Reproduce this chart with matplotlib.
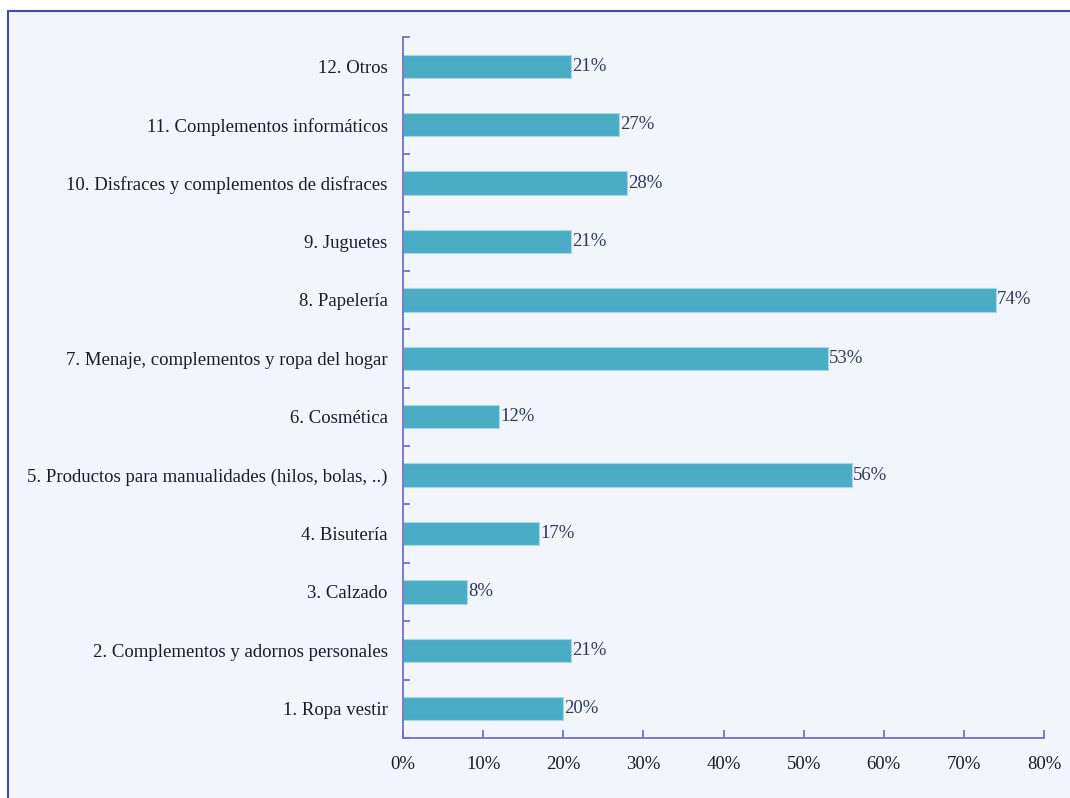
import numpy as np
import matplotlib
matplotlib.use("Agg")
from matplotlib import pyplot as plt
from matplotlib.patches import Rectangle
from matplotlib.ticker import FixedLocator, PercentFormatter

categories = [
    "1. Ropa vestir",
    "2. Complementos y adornos personales",
    "3. Calzado",
    "4. Bisutería",
    "5. Productos para manualidades (hilos, bolas, ..)",
    "6. Cosmética",
    "7. Menaje, complementos y ropa del hogar",
    "8. Papelería",
    "9. Juguetes",
    "10. Disfraces y complementos de disfraces",
    "11. Complementos informáticos",
    "12. Otros",
]
values = [20, 21, 8, 17, 56, 12, 53, 74, 21, 28, 27, 21]
x_ticks = [0, 10, 20, 30, 40, 50, 60, 70, 80]

bar_color = "#4BACC6"
axis_color = "#7272C4"
panel_color = "#F2F5FB"
font_size = 13.5

plt.rcParams["font.family"] = ["Liberation Serif", "DejaVu Serif"]

fig = plt.figure(figsize=(10.70, 7.98), dpi=100, facecolor="white")

# framed panel behind the chart
frame = Rectangle((8 / 1070, -0.05), 1.1, (798 - 11) / 798 + 0.05,
                  transform=fig.transFigure, facecolor=panel_color,
                  edgecolor="#4A4AA8", linewidth=1.5, zorder=-1)
fig.patches.append(frame)

ax = fig.add_axes([403 / 1070, 60 / 798, (1044 - 403) / 1070, (738 - 37) / 798])
ax.set_facecolor("none")
ax.set_zorder(1)

y = np.arange(len(categories))
bars = ax.barh(y, values, height=0.4, color=bar_color, edgecolor="#A8D8E6", linewidth=0.8)

for bar, v in zip(bars, values):
    ax.text(bar.get_width() + 0.15, bar.get_y() + bar.get_height() / 2, f"{v}%",
            va="center", ha="left", fontsize=font_size, color="#2E3A5A")

ax.set_xlim(0, 80)
ax.set_ylim(-0.5, len(categories) - 0.5)
ax.set_xticks(x_ticks)
ax.xaxis.set_major_formatter(PercentFormatter(decimals=0))
ax.set_yticks(y)
ax.set_yticklabels(categories)
ax.yaxis.set_minor_locator(FixedLocator(np.arange(-0.5, len(categories), 1.0)))

for side in ("top", "right"):
    ax.spines[side].set_visible(False)
for side in ("left", "bottom"):
    ax.spines[side].set_color(axis_color)
    ax.spines[side].set_linewidth(1.3)

ax.tick_params(axis="x", direction="in", length=6, width=1.3, color=axis_color,
               pad=13, labelsize=font_size, labelcolor="#1A1A2A")
ax.tick_params(axis="y", which="major", length=0, pad=11, labelsize=font_size,
               labelcolor="#1A1A2A")
ax.tick_params(axis="y", which="minor", direction="in", length=5, width=1.3,
               color=axis_color)

fig.savefig("out.png", dpi=100, facecolor=fig.get_facecolor())
